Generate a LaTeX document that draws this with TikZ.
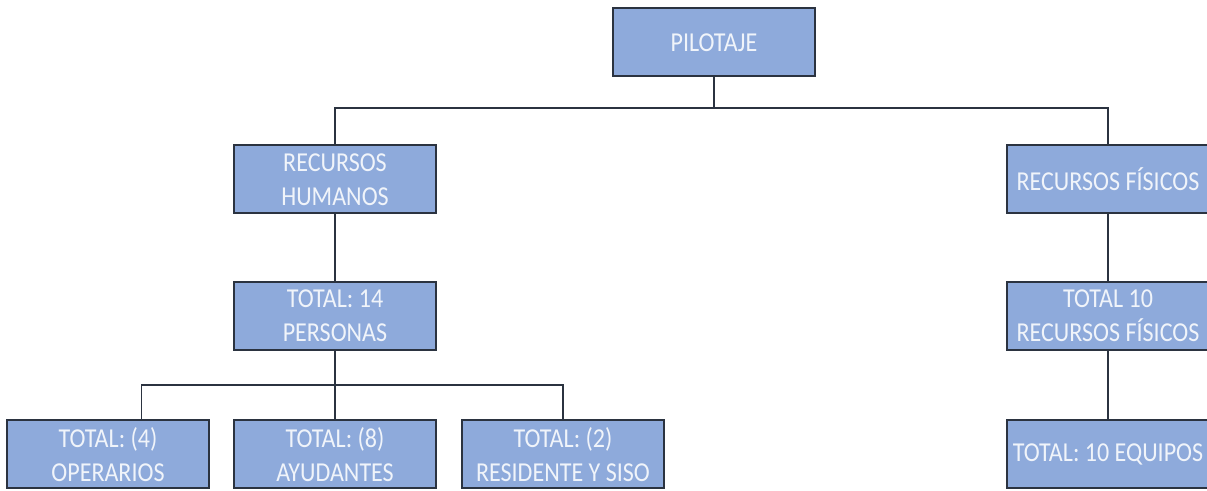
\documentclass[tikz,border=0pt]{standalone}
\usepackage{fontspec}
\setmainfont[FakeStretch=0.88]{Carlito}
\definecolor{boxfill}{HTML}{8EAADB}
\definecolor{boxline}{HTML}{2B3340}
\definecolor{boxtext}{HTML}{F0F4FA}
\begin{document}
\begin{tikzpicture}[x=0.75pt,y=-0.75pt,
  orgbox/.style={draw=boxline,line width=1.5pt,fill=boxfill,text=boxtext,
    minimum width=151.5pt,minimum height=51pt,inner sep=0pt,align=center,
    font=\fontsize{20.5}{25.5}\selectfont},
  link/.style={draw=boxline,line width=1.1pt}]
\useasboundingbox (0,0) rectangle (1207,491);
\clip (0,0) rectangle (1207,491);
% top level
\node[orgbox] (pil) at (714,42.5) {PILOTAJE};
% second level
\node[orgbox] (rh) at (335,179.5) {RECURSOS\\HUMANOS};
\node[orgbox] (rf) at (1108,179.5) {RECURSOS FÍSICOS};
% third level
\node[orgbox] (tp) at (335,316) {TOTAL: 14\\PERSONAS};
\node[orgbox] (trf) at (1108,316) {TOTAL 10\\RECURSOS FÍSICOS};
% fourth level
\node[orgbox] (op) at (108,454.5) {TOTAL: (4)\\OPERARIOS};
\node[orgbox] (ay) at (335,454.5) {TOTAL: (8)\\AYUDANTES};
\node[orgbox] (rs) at (563,454.5) {TOTAL: (2)\\RESIDENTE Y SISO};
\node[orgbox] (eq) at (1108,454.5) {TOTAL: 10 EQUIPOS};
% connectors
\coordinate (j1) at (714,108);
\coordinate (j2) at (335,385);
\draw[link] (pil.south) -- (j1);
\draw[link] (rh.north) |- (j1) -| (rf.north);
\draw[link] (rh.south) -- (tp.north);
\draw[link] (rf.south) -- (trf.north);
\draw[link] (trf.south) -- (eq.north);
\draw[link] (tp.south) -- (j2);
\draw[link] ([xshift=25pt]op.north) |- (j2) -| (rs.north);
\draw[link] (j2) -- (ay.north);
\end{tikzpicture}
\end{document}
